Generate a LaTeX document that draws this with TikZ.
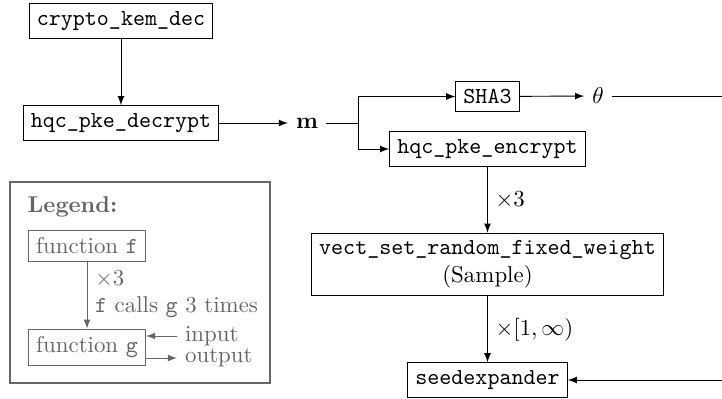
\documentclass[tikz,border=0pt]{standalone}
\usepackage{amsmath}
\usepackage{xcolor}
\usepackage{tikz}
\usetikzlibrary{
    calc,
    arrows
}
\tikzset{
    fn/.style={draw,inner sep=3.33pt},
    legend/.style={black!60}
}

\begin{document}
\begin{tikzpicture}[x=0.4367pt,y=-0.4367pt,>=latex]
        \useasboundingbox (0,0) rectangle (722,399);

        \draw (121,21)    node[fn](kemdec){\texttt{crypto\_kem\_dec}};
        \draw (121,123)   node[fn](pkedec){\texttt{hqc\_pke\_decrypt}};
        \draw (307,123)   node(m){$\mathbf{m}$};
        \draw (487.5,96.5) node[fn](sha){\texttt{SHA3}};
        \draw (598,96)    node(theta){$\theta$};
        \draw (487.5,149) node[fn](pkeenc){\texttt{hqc\_pke\_encrypt}};
        \draw (487.5,264.5) node[fn,align=center](fixw){\texttt{vect\_set\_random\_fixed\_weight}\\(Sample)};
        \draw (487.5,380) node[fn](seed){\texttt{seedexpander}};

        \coordinate (split) at (358,123);
        \coordinate (rtop) at (725,96);
        \coordinate (rbot) at (725,380);

        \draw[->] (kemdec) to (pkedec);
        \draw[->] (pkedec) to (m);
        \draw     (m) to (split);
        \draw[->] (split) |- (sha);
        \draw[->] (split) |- (pkeenc);
        \draw[->] (sha) to (theta);
        \draw[->] (theta) -- (rtop) -- (rbot) -- (seed);

        \draw[->] (pkeenc) to node[right]{$\times 3$} (fixw);
        \draw[->] (fixw) to node[right]{$\times [1,\infty)$} (seed);

        % legend
        \begin{scope}[legend]
        \draw[line width=0.8pt] (10,182) rectangle (270,383);
        \draw (19.5,207) node[anchor=west](leg){\textbf{Legend:}};
        \draw (87,246) node[fn](f){function \texttt{f}};
        \draw (87,347.5) node[fn](g){function \texttt{g}};
        \draw[->] (f) to node[pos=0.26,right]{$\times 3$}
                         node[pos=0.68,right]{\texttt{f} calls \texttt{g} 3 times} (g);
        \draw (177,336) node[anchor=west](lin){input};
        \draw (177,358) node[anchor=west](lout){output};
        \draw[->] (lin) -- (lin -| g.east);
        \draw[->] (lout -| g.east) -- (lout);
        \end{scope}
    \end{tikzpicture}
\end{document}
